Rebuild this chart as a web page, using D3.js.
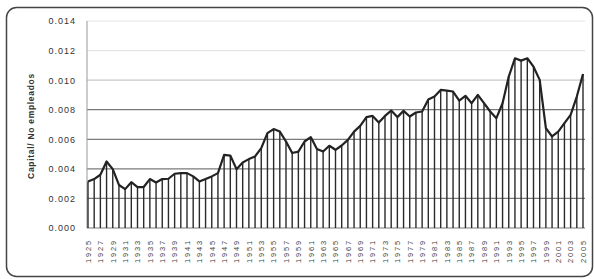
<!DOCTYPE html>
<html>
<head>
<meta charset="utf-8">
<script src="https://cdn.jsdelivr.net/npm/d3@7"></script>
<style>
  body { margin: 0; background: #fff; }
  svg text { font-family: "Liberation Sans", Arial, sans-serif; }
</style>
</head>
<body>
<svg id="chart" width="594" height="279"></svg>
<script>
// años y valores
var years = d3.range(1925, 2006);
var values = [
  0.00315, 0.00331, 0.00360, 0.00450, 0.00398, 0.00291, 0.00263, 0.00310, 0.00277, 0.00277,
  0.00331, 0.00308, 0.00331, 0.00333, 0.00367, 0.00371, 0.00371, 0.00349, 0.00315, 0.00331,
  0.00349, 0.00371, 0.00495, 0.00490, 0.00398, 0.00443, 0.00466, 0.00484, 0.00540, 0.00642,
  0.00669, 0.00652, 0.00585, 0.00507, 0.00517, 0.00585, 0.00615, 0.00534, 0.00517, 0.00556,
  0.00529, 0.00558, 0.00596, 0.00652, 0.00691, 0.00750, 0.00758, 0.00713, 0.00758, 0.00794,
  0.00750, 0.00792, 0.00754, 0.00781, 0.00788, 0.00869, 0.00889, 0.00934, 0.00929, 0.00923,
  0.00862, 0.00894, 0.00844, 0.00900, 0.00844, 0.00788, 0.00743, 0.00844, 0.01024, 0.01148,
  0.01132, 0.01148, 0.01091, 0.01002, 0.00675, 0.00619, 0.00652, 0.00709, 0.00765, 0.00889,
  0.01042
];
var yTicks = [0, 0.002, 0.004, 0.006, 0.008, 0.010, 0.012, 0.014];
var xLabels = years.filter(function (d) { return (d - 1925) % 2 == 0 });
var yTitle = 'Capital/ No empleados';

var data = years.map(function (d, i) { return { year: d, v: values[i] } });

var svg = d3.select('#chart');

// marco exterior redondeado
svg.append('rect')
  .attr('x', 6.5).attr('y', 7.5)
  .attr('width', 586).attr('height', 269)
  .attr('rx', 10).attr('ry', 10)
  .attr('fill', '#fff')
  .attr('stroke', '#444')
  .attr('stroke-width', 1.5);

var x = d3.scalePoint()
  .domain(years)
  .range([88, 583]);

var y = d3.scaleLinear()
  .domain([0, 0.014])
  .range([228, 21]);

// lineas de la cuadricula
var gridColor = function (d) {
  if (d >= 0.012) return '#e6e6e6';
  if (d >= 0.010) return '#c8c8c8';
  return '#7a7a7a';
}
svg.append('g')
  .selectAll('line')
  .data(yTicks)
  .enter()
  .append('line')
  .attr('x1', 87).attr('x2', 585)
  .attr('y1', function (d) { return y(d) })
  .attr('y2', function (d) { return y(d) })
  .attr('stroke', gridColor)
  .attr('stroke-width', 1.2);

// eje y
svg.append('line')
  .attr('x1', 87).attr('x2', 87)
  .attr('y1', y(0.014)).attr('y2', y(0))
  .attr('stroke', '#999');

svg.append('g')
  .attr('transform', 'translate(87,0)')
  .call(d3.axisLeft(y).tickValues(yTicks).tickSize(0).tickPadding(11).tickFormat(d3.format('.3f')))
  .call(function (g) { g.select('.domain').remove() })
  .selectAll('text')
  .attr('font-family', '"Liberation Sans", Arial, sans-serif')
  .attr('font-size', '9px')
  .attr('letter-spacing', '1px')
  .attr('fill', '#333');

// lineas verticales
svg.append('g')
  .selectAll('line')
  .data(data)
  .enter()
  .append('line')
  .attr('x1', function (d) { return x(d.year) })
  .attr('x2', function (d) { return x(d.year) })
  .attr('y1', function (d) { return y(d.v) })
  .attr('y2', y(0))
  .attr('stroke', '#2a2a2a')
  .attr('stroke-width', 1.4);

// linea principal
svg.append('path')
  .datum(data)
  .attr('fill', 'none')
  .attr('stroke', '#222')
  .attr('stroke-width', 2.2)
  .attr('stroke-linejoin', 'round')
  .attr('d', d3.line().x(function (d) { return x(d.year) }).y(function (d) { return y(d.v) }));

// etiquetas del eje x
svg.append('g')
  .selectAll('text')
  .data(xLabels)
  .enter()
  .append('text')
  .attr('transform', function (d) { return 'translate(' + (x(d) + 2.8) + ',239) rotate(-90)' })
  .attr('text-anchor', 'end')
  .attr('font-size', '7.5px')
  .attr('letter-spacing', '1.8px')
  .attr('fill', '#444')
  .text(function (d) { return d });

// titulo eje y
svg.append('text')
  .attr('transform', 'translate(34,126) rotate(-90)')
  .attr('text-anchor', 'middle')
  .attr('font-size', '8.5px')
  .attr('font-weight', 'bold')
  .attr('letter-spacing', '0.7px')
  .attr('fill', '#333')
  .text(yTitle);
</script>
</body>
</html>
